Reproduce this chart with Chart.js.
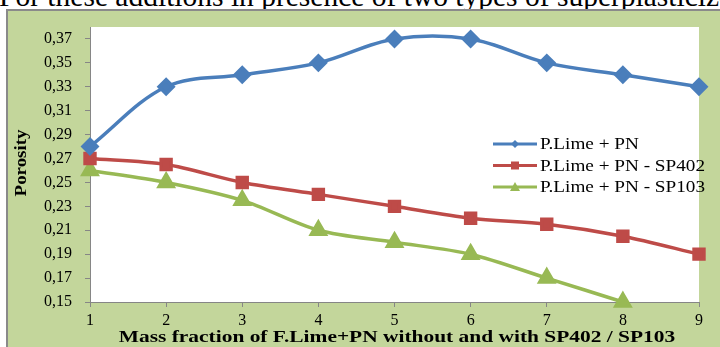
<!DOCTYPE html>
<html lang="en">
<head>
    <meta charset="UTF-8">
    <script src="https://cdn.jsdelivr.net/npm/chart.js"></script>
    <title>Porosity</title>
    <style>
        body { margin: 0; background: #fff; overflow: hidden; width: 720px; height: 347px; position: relative; }
        .caption { position: absolute; left: -1px; top: -21px; line-height: 34px; font-family: "Liberation Serif", serif; font-size: 29.5px; white-space: nowrap; color: #000; }
        .panel { position: absolute; left: 6px; top: 9px; width: 720px; height: 345px; background: #c3d69b; border-left: 2px solid #8a8a8a; border-top: 2px solid #8a8a8a; }
    </style>
</head>
<body>
    <div class="caption">For these additions in presence of two types of superplasticizers</div>
    <div class="panel">
        <canvas id="myChart" width="712" height="336" style="position:absolute;left:0;top:0;width:712px;height:336px;"></canvas>
    </div>
    <script>
        let fractions = ['1', '2', '3', '4', '5', '6', '7', '8', '9']
        let limePN = [0.28, 0.33, 0.34, 0.35, 0.37, 0.37, 0.35, 0.34, 0.33]
        let limeSP402 = [0.27, 0.265, 0.25, 0.24, 0.23, 0.22, 0.215, 0.205, 0.19]
        let limeSP103 = [0.26, 0.25, 0.235, 0.21, 0.20, 0.19, 0.17, 0.15]
        let yTicks = [0.15, 0.17, 0.19, 0.21, 0.23, 0.25, 0.27, 0.29, 0.31, 0.33, 0.35, 0.37]
        let xTitle = 'Mass fraction of F.Lime+PN without and with SP402 / SP103'
        let yTitle = 'Porosity'

        const serif = '"Liberation Serif", "Times New Roman", serif'

        // the fonts in the original are drawn wider than normal, so stretch them a bit
        function wideText(c, text, x, y, stretch, rotate) {
            c.save()
            c.translate(x, y)
            if (rotate) c.rotate(-Math.PI / 2)
            c.scale(stretch, 1)
            c.textAlign = 'center'
            c.textBaseline = 'middle'
            c.fillText(text, 0, 0)
            c.restore()
        }

        // white plot area, axis titles and the legend inside the plot
        const extras = {
            id: 'extras',
            beforeDraw(chart) {
                const a = chart.chartArea
                const c = chart.ctx
                c.save()
                c.fillStyle = '#ffffff'
                c.fillRect(a.left, a.top, a.right - a.left, a.bottom - a.top)
                c.restore()
            },
            afterDraw(chart) {
                const c = chart.ctx
                c.save()
                c.fillStyle = '#000'
                c.font = 'bold 17px ' + serif
                wideText(c, xTitle, 389, 327, 1.26, false)
                c.font = 'bold 16px ' + serif
                wideText(c, yTitle, 14, 152, 1.18, true)
                c.restore()

                const x0 = 485, y0 = 133, gap = 21.5
                chart.data.datasets.forEach((ds, i) => {
                    const y = y0 + i * gap
                    c.save()
                    c.strokeStyle = ds.borderColor
                    c.lineWidth = 3
                    c.beginPath()
                    c.moveTo(x0, y)
                    c.lineTo(x0 + 44, y)
                    c.stroke()
                    c.fillStyle = ds.backgroundColor
                    const m = x0 + 22
                    c.beginPath()
                    if (ds.pointStyle === 'rectRot') {
                        c.moveTo(m, y - 4); c.lineTo(m + 4, y); c.lineTo(m, y + 4); c.lineTo(m - 4, y)
                    } else if (ds.pointStyle === 'rect') {
                        c.rect(m - 4, y - 4, 8, 8)
                    } else {
                        c.moveTo(m, y - 5); c.lineTo(m + 5, y + 4); c.lineTo(m - 5, y + 4)
                    }
                    c.closePath()
                    c.fill()
                    c.fillStyle = '#000'
                    c.font = '16px ' + serif
                    c.textBaseline = 'middle'
                    c.translate(x0 + 47, y + 1)
                    c.scale(1.2, 1)
                    c.fillText(ds.label, 0, 0)
                    c.restore()
                })
            }
        }

        const ctx = document.getElementById('myChart')
        new Chart(ctx, {
            type: 'line',
            data: {
                labels: fractions,
                datasets: [{
                    label: 'P.Lime + PN',
                    data: limePN,
                    borderColor: '#4a7ebb',
                    backgroundColor: '#4a7ebb',
                    borderWidth: 3.5,
                    pointStyle: 'rectRot',
                    pointRadius: 7,
                    tension: 0.35
                }, {
                    label: 'P.Lime + PN - SP402',
                    data: limeSP402,
                    borderColor: '#be4b48',
                    backgroundColor: '#be4b48',
                    borderWidth: 3.5,
                    pointStyle: 'rect',
                    pointRadius: 7,
                    tension: 0.3
                }, {
                    label: 'P.Lime + PN - SP103',
                    data: limeSP103,
                    borderColor: '#98b954',
                    backgroundColor: '#98b954',
                    borderWidth: 3.5,
                    pointStyle: 'triangle',
                    pointRadius: 8,
                    tension: 0.3
                }]
            },
            options: {
                responsive: false,
                animation: false,
                clip: false,
                layout: { padding: { top: 16, right: 21, left: 0, bottom: 0 } },
                plugins: {
                    legend: { display: false },
                    tooltip: { enabled: false }
                },
                elements: { point: { borderWidth: 0 } },
                scales: {
                    x: {
                        offset: false,
                        grid: { display: true, drawOnChartArea: false, color: '#868686', tickLength: 5 },
                        border: { display: true, color: '#868686', width: 1 },
                        ticks: { color: '#000', font: { family: serif, size: 16 }, padding: 4, maxRotation: 0 },
                        afterFit(scale) { scale.height = 45 }
                    },
                    y: {
                        min: 0.15,
                        max: 0.38,
                        afterBuildTicks(scale) { scale.ticks = yTicks.map(v => ({ value: v })) },
                        grid: { display: true, drawOnChartArea: false, color: '#868686', tickLength: 5 },
                        border: { display: true, color: '#868686', width: 1 },
                        ticks: {
                            color: '#000',
                            font: { family: serif, size: 16 },
                            padding: 13,
                            callback: v => v.toFixed(2).replace('.', ',')
                        },
                        afterFit(scale) {
                            scale.width = 82
                            scale.paddingTop = 0
                            scale.paddingBottom = 0
                        }
                    }
                }
            },
            plugins: [extras]
        })
    </script>
</body>
</html>
